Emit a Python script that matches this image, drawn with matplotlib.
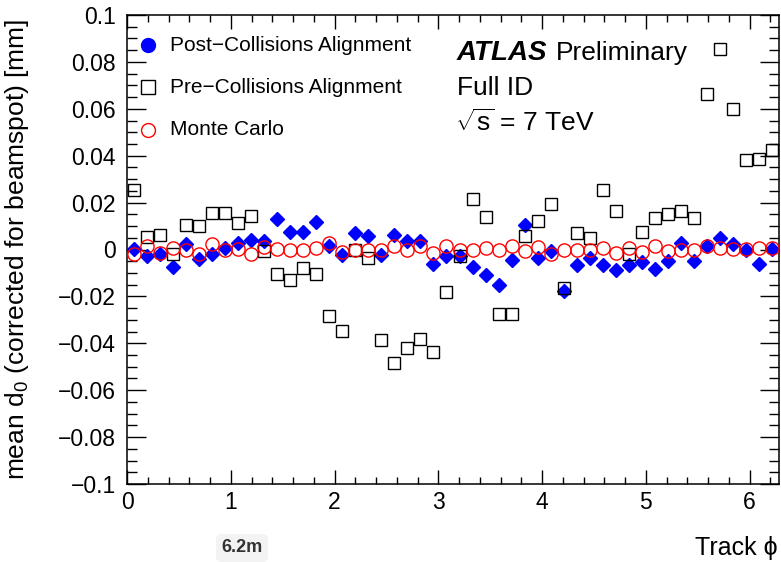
import numpy as np
import matplotlib
matplotlib.use('Agg')
import matplotlib.pyplot as plt
from matplotlib.ticker import MultipleLocator, FixedLocator

plt.rcParams['font.family'] = ['Liberation Sans', 'DejaVu Sans']
plt.rcParams['mathtext.fontset'] = 'custom'
plt.rcParams['mathtext.rm'] = 'Liberation Sans'
plt.rcParams['mathtext.it'] = 'Liberation Sans:italic'

# 50 bins in track phi, 0 .. 2pi
n_bins = 50
phi = (np.arange(n_bins) + 0.5) * 2 * np.pi / n_bins

post_d0 = [0.0002, -0.0028, -0.0021, -0.0074, 0.0022, -0.0042, -0.0021, 0.0008, 0.0027, 0.0042,
           0.0036, 0.0130, 0.0074, 0.0074, 0.0119, 0.0017, -0.0025, 0.0069, 0.0057, -0.0025,
           0.0060, 0.0036, 0.0036, -0.0060, -0.0029, -0.0029, -0.0074, -0.0107, -0.0152, -0.0046,
           0.0105, -0.0036, -0.0007, -0.0176, -0.0067, -0.0038, -0.0064, -0.0088, -0.0067, -0.0053,
           -0.0084, -0.0049, 0.0027, -0.0050, 0.0017, 0.0050, 0.0025, 0.0000, -0.0063, 0.0003]

pre_d0 = [0.0252, 0.0052, 0.0062, -0.0018, 0.0106, 0.0099, 0.0156, 0.0156, 0.0115, 0.0144,
          -0.0005, -0.0104, -0.0128, -0.0077, -0.0103, -0.0282, -0.0348, 0.0000, -0.0038, -0.0385,
          -0.0484, -0.0418, -0.0382, -0.0439, -0.0180, -0.0029, 0.0215, 0.0137, -0.0276, -0.0276,
          0.0056, 0.0123, 0.0194, -0.0166, 0.0070, 0.0048, 0.0255, 0.0163, -0.0018, 0.0074,
          0.0133, 0.0152, 0.0164, 0.0133, 0.0664, 0.0854, 0.0601, 0.0381, 0.0387, 0.0424]

mc_d0 = [-0.0018, 0.0017, -0.0014, 0.0008, -0.0004, -0.0021, 0.0025, -0.0004, 0.0003, -0.0018,
         0.0010, 0.0003, 0.0000, 0.0000, 0.0008, 0.0027, -0.0011, 0.0000, 0.0000, 0.0000,
         0.0017, -0.0004, 0.0013, -0.0014, 0.0015, 0.0000, -0.0001, 0.0008, -0.0004, 0.0013,
         -0.0008, 0.0010, -0.0018, -0.0004, -0.0004, 0.0000, 0.0006, -0.0014, 0.0006, -0.0011,
         0.0017, -0.0007, 0.0000, 0.0000, 0.0017, 0.0008, 0.0003, 0.0003, 0.0008, 0.0008]

legend_labels = ['Post\u2212Collisions Alignment', 'Pre\u2212Collisions Alignment', 'Monte Carlo']
y_ticks = [-0.1, -0.08, -0.06, -0.04, -0.02, 0, 0.02, 0.04, 0.06, 0.08, 0.1]
y_tick_labels = ['\u22120.1', '\u22120.08', '\u22120.06', '\u22120.04', '\u22120.02', '0',
                 '0.02', '0.04', '0.06', '0.08', '0.1']

fig = plt.figure(figsize=(7.81, 5.62), dpi=100)
ax = fig.add_axes([127 / 781, 1 - 484 / 562, 652 / 781, 469 / 562])

ax.plot(phi, post_d0, linestyle='none', marker='D', ms=6.8, color='#0000ff', mec='#0000ff', zorder=3)
ax.plot(phi, pre_d0, linestyle='none', marker='s', ms=9, mfc='none', mec='black', mew=1.0, zorder=4)
ax.plot(phi, mc_d0, linestyle='none', marker='o', ms=9.5, mfc='none', mec='#ff0000', mew=1.0, zorder=5)

ax.set_xlim(0, 2 * np.pi)
ax.set_ylim(-0.1, 0.1)

ax.xaxis.set_major_locator(MultipleLocator(1))
ax.xaxis.set_minor_locator(MultipleLocator(0.2))
ax.yaxis.set_major_locator(FixedLocator(y_ticks))
ax.set_yticklabels(y_tick_labels)
ax.yaxis.set_minor_locator(MultipleLocator(0.005))

ax.tick_params(which='both', direction='in', top=True, right=True, width=1.0)
ax.tick_params(axis='x', which='major', length=10, labelsize=16.5, pad=5)
ax.tick_params(axis='x', which='minor', length=5)
ax.tick_params(axis='y', which='major', length=13.5, labelsize=16.5, pad=8)
ax.tick_params(axis='y', which='minor', length=7)
for sp in ax.spines.values():
    sp.set_linewidth(1.1)

ax.set_ylabel('mean d$_0$ (corrected for beamspot) [mm]', fontsize=19)
ax.yaxis.set_label_coords(-0.147, 0.5)
fig.text(778 / 781, 1 - 548 / 562, 'Track \u03d5', fontsize=18, ha='right', va='center')

# legend drawn by hand at ROOT-like positions
leg_y = [0.936, 0.846, 0.755]
ax.plot(0.032, leg_y[0], marker='o', ms=10, color='#0000ff', transform=ax.transAxes, clip_on=False)
ax.plot(0.032, leg_y[1], marker='s', ms=10, mfc='none', mec='black', mew=1.0, transform=ax.transAxes)
ax.plot(0.032, leg_y[2], marker='o', ms=10, mfc='none', mec='#ff0000', mew=1.0, transform=ax.transAxes)
for yy, lab in zip(leg_y, legend_labels):
    ax.text(0.066, yy, lab, fontsize=15, ha='left', va='center', transform=ax.transAxes)

ax.text(0.506, 0.919, 'ATLAS', fontsize=20, fontweight='bold', style='italic',
        ha='left', va='center', transform=ax.transAxes)
ax.text(0.658, 0.919, 'Preliminary', fontsize=19, ha='left', va='center', transform=ax.transAxes)
ax.text(0.506, 0.844, 'Full ID', fontsize=19, ha='left', va='center', transform=ax.transAxes)
ax.text(0.503, 0.770, r'$\sqrt{\mathrm{s}}$ = 7 TeV', fontsize=19, ha='left', va='center',
        transform=ax.transAxes)

fig.text(242 / 781, 1 - 548 / 562, '6.2m', fontsize=13, fontweight='bold', color='#333333',
         ha='center', va='center',
         bbox=dict(boxstyle='round,pad=0.3', fc='#f3f3f3', ec='none'))

fig.savefig('out.png', dpi=100)
